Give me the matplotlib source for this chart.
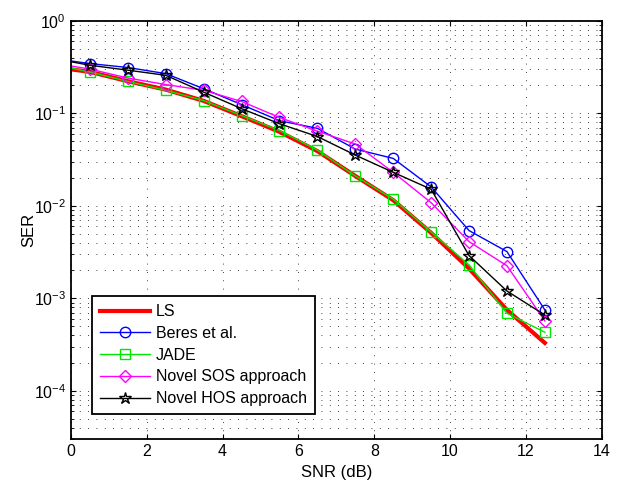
import matplotlib
matplotlib.use("Agg")
import matplotlib.pyplot as plt
import numpy as np

plt.rcParams['font.family'] = ['Liberation Sans', 'DejaVu Sans']

# SNR points (first point at 0 dB carries no marker)
snr = [0, 0.5, 1.5, 2.5, 3.5, 4.5, 5.5, 6.5, 7.5, 8.5, 9.5, 10.5, 11.5, 12.5]

ser_ls = [0.298, 0.28, 0.222, 0.18, 0.136, 0.093, 0.063, 0.039, 0.021, 0.0115, 0.0051, 0.0021, 0.00075, 0.00033]
ser_beres = [0.367, 0.344, 0.312, 0.268, 0.184, 0.124, 0.083, 0.0687, 0.041, 0.0325, 0.016, 0.0054, 0.0032, 0.00075]
ser_jade = [0.308, 0.279, 0.221, 0.177, 0.137, 0.0944, 0.065, 0.040, 0.021, 0.0118, 0.0052, 0.0023, 0.00069, 0.00043]
ser_sos = [0.324, 0.30, 0.24, 0.204, 0.177, 0.134, 0.09, 0.064, 0.0465, 0.023, 0.0108, 0.0041, 0.00225, 0.00057]
ser_hos = [0.36, 0.33, 0.292, 0.257, 0.169, 0.112, 0.077, 0.056, 0.0353, 0.023, 0.0151, 0.0029, 0.0012, 0.00066]

fig = plt.figure(figsize=(6.2, 4.88), dpi=100)
ax = fig.add_axes([0.1145, 0.0998, 0.856, 0.8578])

mk = dict(markevery=slice(1, None), markersize=7.5, markerfacecolor='none', markeredgewidth=1)
ax.semilogy(snr, ser_ls, color='red', lw=3, label='LS')
ax.semilogy(snr, ser_beres, color='blue', lw=1, marker='o', label='Beres et al.', **mk)
ax.semilogy(snr, ser_jade, color='#00e600', lw=1, marker='s', label='JADE', **mk)
ax.semilogy(snr, ser_sos, color='magenta', lw=1, marker='D', label='Novel SOS approach',
            **dict(mk, markersize=6.5))
ax.semilogy(snr, ser_hos, color='black', lw=1, marker='*', label='Novel HOS approach',
            **dict(mk, markersize=9))

ax.set_xlim(0, 14)
ax.set_ylim(3e-5, 1)
ax.set_xticks(np.arange(0, 15, 2))
ax.grid(True, which='major', axis='x', color='black', linestyle=(0, (1, 9)), lw=0.6)
ax.grid(True, which='both', axis='y', color='black', linestyle=(0, (1, 9)), lw=0.6)
ax.tick_params(which='both', direction='in', top=True, right=True, labelsize=11.5)
for s in ax.spines.values():
    s.set_linewidth(1.3)

ax.set_xlabel('SNR (dB)', fontsize=12)
ax.set_ylabel('SER', fontsize=12, labelpad=-2)

leg = ax.legend(loc='lower left', bbox_to_anchor=(0.04, 0.06), fontsize=11.5,
                fancybox=False, edgecolor='black', handlelength=3.1, handletextpad=0.4,
                borderaxespad=0, borderpad=0.5, labelspacing=0.42)
leg.get_frame().set_linewidth(1.3)
leg.get_frame().set_alpha(1)

fig.savefig('out.png', dpi=100)
